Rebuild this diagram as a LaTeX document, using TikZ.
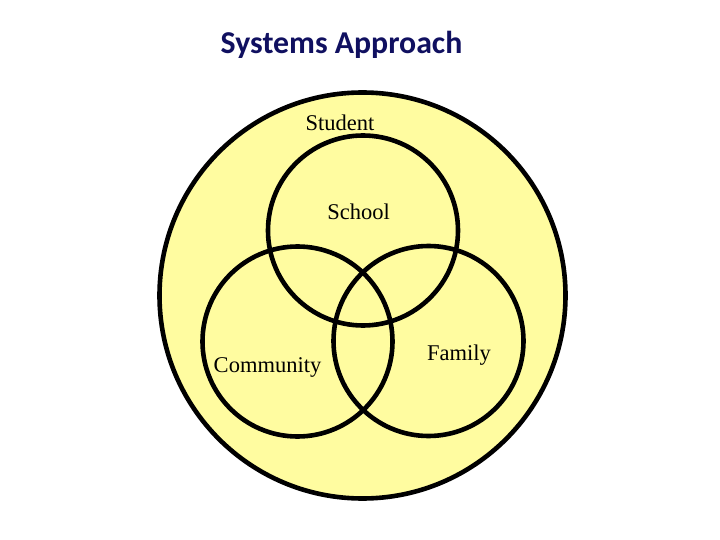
\documentclass[tikz,border=0pt]{standalone}
\usepackage{fontspec}
\setmainfont{Liberation Serif}
\newfontfamily\titlefont{Carlito}
\definecolor{fillyellow}{RGB}{255,252,160}
\definecolor{titleblue}{RGB}{16,16,96}
\begin{document}
\begin{tikzpicture}[x=1pt,y=-1pt,
  ring/.style={draw=black,line width=4.6pt},
  lbl/.style={font=\fontsize{22.5}{26}\selectfont,inner sep=0pt}]
\useasboundingbox (0,0) rectangle (720,540);
\fill[white] (0,0) rectangle (720,540);
\node[font=\titlefont\bfseries\fontsize{31.8}{36}\selectfont,text=titleblue,inner sep=0pt] (title) at (341.5,45) {Systems Approach};
\draw[ring,fill=fillyellow] (362.5,295.5) circle[radius=203];
\draw[ring] (363,230.5) circle[radius=95];
\draw[ring] (297.5,341.5) circle[radius=95];
\draw[ring] (428.5,341) circle[radius=95];
\node[lbl] (student) at (340,123) {Student};
\node[lbl] (school) at (358.5,212) {School};
\node[lbl] (community) at (267.5,367) {Community};
\node[lbl] (family) at (459,355) {Family};
\end{tikzpicture}
\end{document}
